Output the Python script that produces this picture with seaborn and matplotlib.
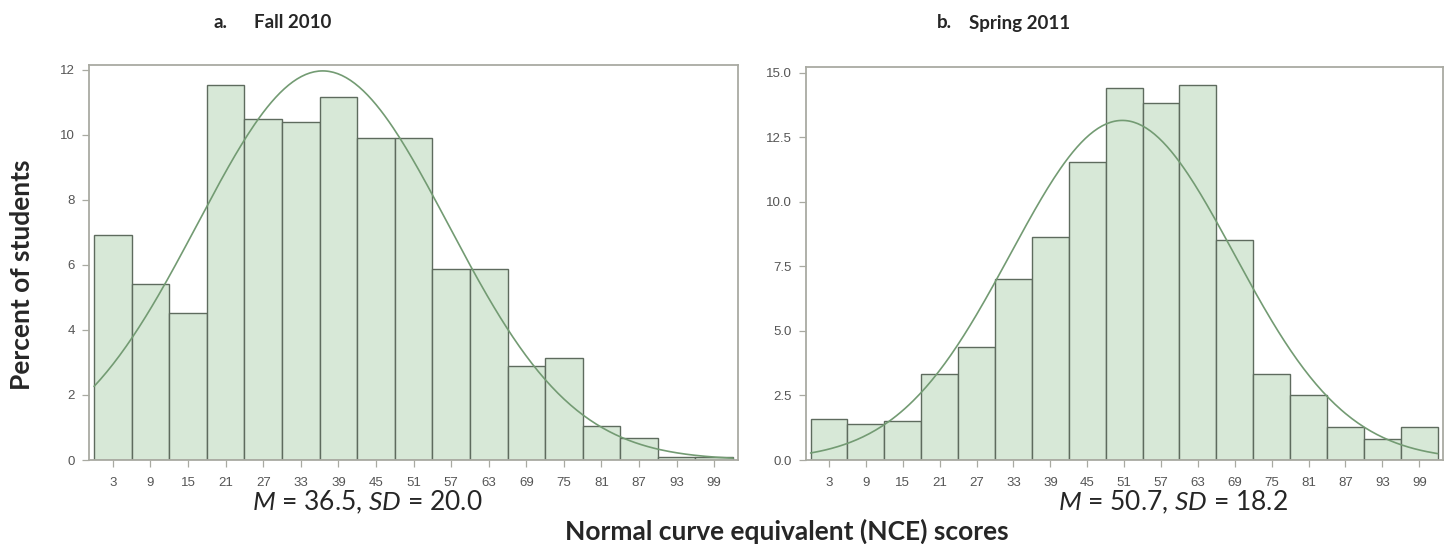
import numpy as np
import pandas as pd
import matplotlib
matplotlib.use("Agg")
import matplotlib.pyplot as plt
import seaborn as sns

## Data: percent of students per NCE bin (bin width 6, midpoints 3..99)
nce_mid = [3, 9, 15, 21, 27, 33, 39, 45, 51, 57, 63, 69, 75, 81, 87, 93, 99]
fall_pct = [6.92, 5.41, 4.51, 11.53, 10.48, 10.39, 11.18, 9.91, 9.91,
            5.89, 5.89, 2.89, 3.13, 1.05, 0.68, 0.10, 0.08]
spring_pct = [1.59, 1.38, 1.50, 3.34, 4.36, 7.01, 8.64, 11.53, 14.39,
              13.81, 14.54, 8.51, 3.34, 2.50, 1.27, 0.80, 1.27]
fall_m, fall_sd = 36.5, 20.0
spring_m, spring_sd = 50.7, 18.2
fall_yticks = [0, 2, 4, 6, 8, 10, 12]
spring_yticks = [0, 2.5, 5, 7.5, 10, 12.5, 15]

sns.set_style("white")
plt.rcParams['font.family'] = ['Lato', 'DejaVu Sans']
plt.rcParams['mathtext.fontset'] = 'custom'
plt.rcParams['mathtext.rm'] = 'Lato'
plt.rcParams['mathtext.it'] = 'Lato:italic'

bar_fill = '#d7e8d7'
bar_edge = '#5e6b5e'
curve_col = '#739b73'
frame_col = '#a9aaa2'
tick_col = '#555555'

fig = plt.figure(figsize=(14.48, 5.44), dpi=100)
ax1 = fig.add_axes([0.0615, 0.1544, 0.4482, 0.7261])
ax2 = fig.add_axes([0.5564, 0.1544, 0.4399, 0.7219])


def draw_panel(ax, pct, m, sd, yticks, ylabels, ytop):
    df = pd.DataFrame({'nce': nce_mid, 'pct': pct})
    sns.histplot(data=df, x='nce', weights='pct', binwidth=6, binrange=(0, 102), ax=ax,
                 color=bar_fill, edgecolor=bar_edge, linewidth=1.0, alpha=1)
    # normal curve from the reported mean and SD, scaled to percent per bin
    xs = np.linspace(0, 102, 300)
    ys = 100 * 6 * np.exp(-0.5 * ((xs - m) / sd) ** 2) / (sd * np.sqrt(2 * np.pi))
    sns.lineplot(x=xs, y=ys, ax=ax, color=curve_col, linewidth=1.2)
    ax.set_xlim(-0.8, 102.8)
    ax.set_ylim(0, ytop)
    ax.set_xticks(nce_mid)
    ax.set_xticklabels([str(v) for v in nce_mid], family='Liberation Sans',
                       fontsize=9.5, color=tick_col)
    ax.set_yticks(yticks)
    ax.set_yticklabels(ylabels, family='Liberation Sans', fontsize=9.5, color=tick_col)
    ax.tick_params(axis='both', direction='out', length=5, width=0.9,
                   color=frame_col, pad=5, bottom=True, left=True)
    ax.tick_params(axis='x', pad=7)
    ax.set_xlabel('')
    ax.set_ylabel('')
    for sp in ax.spines.values():
        sp.set_color(frame_col)
        sp.set_linewidth(1.3)


draw_panel(ax1, fall_pct, fall_m, fall_sd, fall_yticks,
           [str(v) for v in fall_yticks], 12.15)
draw_panel(ax2, spring_pct, spring_m, spring_sd, spring_yticks,
           [f"{v:.1f}" for v in spring_yticks], 15.21)

ty = 1 - 23 / 544
fig.text(213 / 1448, ty, 'a.', fontsize=13.5, fontweight='bold', ha='left', va='center')
fig.text(254 / 1448, ty, 'Fall 2010', fontsize=13.5, fontweight='bold', ha='left', va='center')
fig.text(937 / 1448, ty, 'b.', fontsize=13.5, fontweight='bold', ha='left', va='center')
fig.text(969 / 1448, ty, 'Spring 2011', fontsize=13.5, fontweight='bold', ha='left', va='center')
fig.text(22 / 1448, 1 - 275 / 544, 'Percent of students', fontsize=19, fontweight='bold',
         rotation=90, ha='center', va='center')
fig.text(787 / 1448, 1 - 531 / 544, 'Normal curve equivalent (NCE) scores', fontsize=19,
         fontweight='bold', ha='center', va='center')
fig.text(367 / 1448, 1 - 502 / 544, f"$M$ = {fall_m}, $SD$ = {fall_sd}", fontsize=19,
         ha='center', va='center')
fig.text(1173 / 1448, 1 - 502 / 544, f"$M$ = {spring_m}, $SD$ = {spring_sd}", fontsize=19,
         ha='center', va='center')

fig.savefig('out.png', dpi=100)
